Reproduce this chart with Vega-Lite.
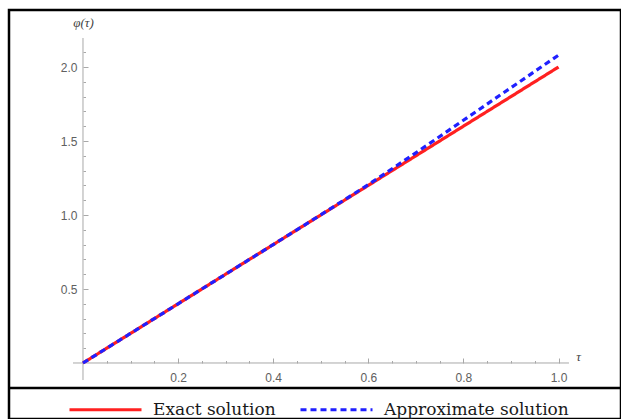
{
  "$schema": "https://vega.github.io/schema/vega-lite/v6.json",
  "width": 612,
  "height": 409,
  "autosize": "none",
  "padding": {"left": 9, "top": 10, "right": 0, "bottom": 0},
  "background": "white",
  "config": {
    "view": {"stroke": "black", "strokeWidth": 2.5},
    "axis": {
      "domain": false,
      "grid": false,
      "tickColor": "#a8a8a8",
      "tickWidth": 1,
      "labelColor": "#606060",
      "labelFont": "Liberation Sans",
      "labelFontSize": 12,
      "titleColor": "#444444",
      "titleFont": "Liberation Serif",
      "titleFontStyle": "italic",
      "titleFontWeight": "normal",
      "titleFontSize": 13
    },
    "legend": {
      "orient": "none",
      "legendX": 59,
      "legendY": 362,
      "direction": "horizontal",
      "symbolType": "stroke",
      "symbolSize": 5184,
      "symbolStrokeWidth": 3,
      "labelFont": "DejaVu Serif",
      "labelFontSize": 17,
      "labelColor": "#1a1a1a",
      "labelOffset": 10,
      "labelLimit": 400,
      "columnPadding": 18,
      "padding": 0
    }
  },
  "resolve": {"axis": {"x": "independent", "y": "independent"}},
  "layer": [
    {
      "data": {"values": [{}]},
      "mark": {"type": "rule", "color": "black", "strokeWidth": 2.5},
      "encoding": {
        "y": {"datum": -0.1689, "type": "quantitative", "axis": null}
      }
    },
    {
      "data": {"values": [{}]},
      "mark": {"type": "rule", "color": "#a8a8a8", "strokeWidth": 1},
      "encoding": {
        "x": {
          "datum": -0.021,
          "type": "quantitative",
          "axis": {
            "orient": "bottom",
            "offset": -56,
            "values": [0.05, 0.1, 0.15, 0.25, 0.3, 0.35, 0.45, 0.5, 0.55, 0.65, 0.7, 0.75, 0.85, 0.9, 0.95],
            "labels": false,
            "tickSize": -2.5,
            "title": null
          }
        },
        "x2": {"datum": 1.022},
        "y": {"datum": 0, "type": "quantitative", "axis": null}
      }
    },
    {
      "data": {"values": [{}]},
      "mark": {"type": "rule", "color": "#a8a8a8", "strokeWidth": 1},
      "encoding": {
        "x": {"datum": 0, "type": "quantitative", "axis": null},
        "y": {
          "datum": -0.115,
          "type": "quantitative",
          "axis": {
            "orient": "left",
            "offset": -74,
            "values": [0.1, 0.2, 0.3, 0.4, 0.6, 0.7, 0.8, 0.9, 1.1, 1.2, 1.3, 1.4, 1.6, 1.7, 1.8, 1.9, 2.1],
            "labels": false,
            "tickSize": -2.5,
            "title": null
          }
        },
        "y2": {"datum": 2.196}
      }
    },
    {
      "data": {
        "values": [
          {"tau": 0.0, "phi": 0.0, "series": "Exact solution"},
          {"tau": 0.1, "phi": 0.2, "series": "Exact solution"},
          {"tau": 0.2, "phi": 0.4, "series": "Exact solution"},
          {"tau": 0.3, "phi": 0.6, "series": "Exact solution"},
          {"tau": 0.4, "phi": 0.8, "series": "Exact solution"},
          {"tau": 0.5, "phi": 1.0, "series": "Exact solution"},
          {"tau": 0.6, "phi": 1.2, "series": "Exact solution"},
          {"tau": 0.7, "phi": 1.4, "series": "Exact solution"},
          {"tau": 0.8, "phi": 1.6, "series": "Exact solution"},
          {"tau": 0.9, "phi": 1.8, "series": "Exact solution"},
          {"tau": 1.0, "phi": 2.0, "series": "Exact solution"},
          {"tau": 0.0, "phi": 0.0, "series": "Approximate solution"},
          {"tau": 0.1, "phi": 0.2, "series": "Approximate solution"},
          {"tau": 0.2, "phi": 0.4, "series": "Approximate solution"},
          {"tau": 0.3, "phi": 0.6, "series": "Approximate solution"},
          {"tau": 0.4, "phi": 0.8, "series": "Approximate solution"},
          {"tau": 0.5, "phi": 1.001, "series": "Approximate solution"},
          {"tau": 0.6, "phi": 1.205, "series": "Approximate solution"},
          {"tau": 0.7, "phi": 1.42, "series": "Approximate solution"},
          {"tau": 0.8, "phi": 1.64, "series": "Approximate solution"},
          {"tau": 0.9, "phi": 1.86, "series": "Approximate solution"},
          {"tau": 1.0, "phi": 2.08, "series": "Approximate solution"}
        ]
      },
      "mark": {"type": "line", "strokeWidth": 3.2, "clip": false},
      "encoding": {
        "x": {
          "field": "tau",
          "type": "quantitative",
          "scale": {"domain": [-0.1556, 1.1314], "nice": false, "zero": false},
          "axis": {
            "orient": "bottom",
            "offset": -56,
            "values": [0.2, 0.4, 0.6, 0.8, 1.0],
            "format": ".1f",
            "tickSize": -5,
            "labelPadding": 14,
            "title": "τ",
            "titleX": 569,
            "titleY": -7,
            "titleAlign": "center",
            "titleBaseline": "middle",
            "titleAngle": 0
          }
        },
        "y": {
          "field": "phi",
          "type": "quantitative",
          "scale": {"domain": [-0.37838, 2.38514], "nice": false, "zero": false},
          "axis": {
            "orient": "left",
            "offset": -74,
            "values": [0.5, 1.0, 1.5, 2.0],
            "format": ".1f",
            "tickSize": -5,
            "labelPadding": 11,
            "title": "φ(τ)",
            "titleX": 0,
            "titleY": 12,
            "titleAlign": "center",
            "titleBaseline": "middle",
            "titleAngle": 0
          }
        },
        "color": {
          "field": "series",
          "type": "nominal",
          "scale": {"domain": ["Exact solution", "Approximate solution"], "range": ["#ff2020", "#2020ff"]},
          "legend": {
            "title": null,
            "encode": {
              "symbols": {
                "update": {
                  "strokeDash": {"signal": "datum.value === 'Exact solution' ? [1, 0] : [8, 10]"}
                }
              }
            }
          }
        },
        "strokeDash": {
          "field": "series",
          "type": "nominal",
          "scale": {"domain": ["Exact solution", "Approximate solution"], "range": [[1, 0], [6, 4]]},
          "legend": {
            "title": null,
            "encode": {
              "symbols": {
                "update": {
                  "strokeDash": {"signal": "datum.value === 'Exact solution' ? [1, 0] : [8, 10]"}
                }
              }
            }
          }
        }
      }
    }
  ]
}
